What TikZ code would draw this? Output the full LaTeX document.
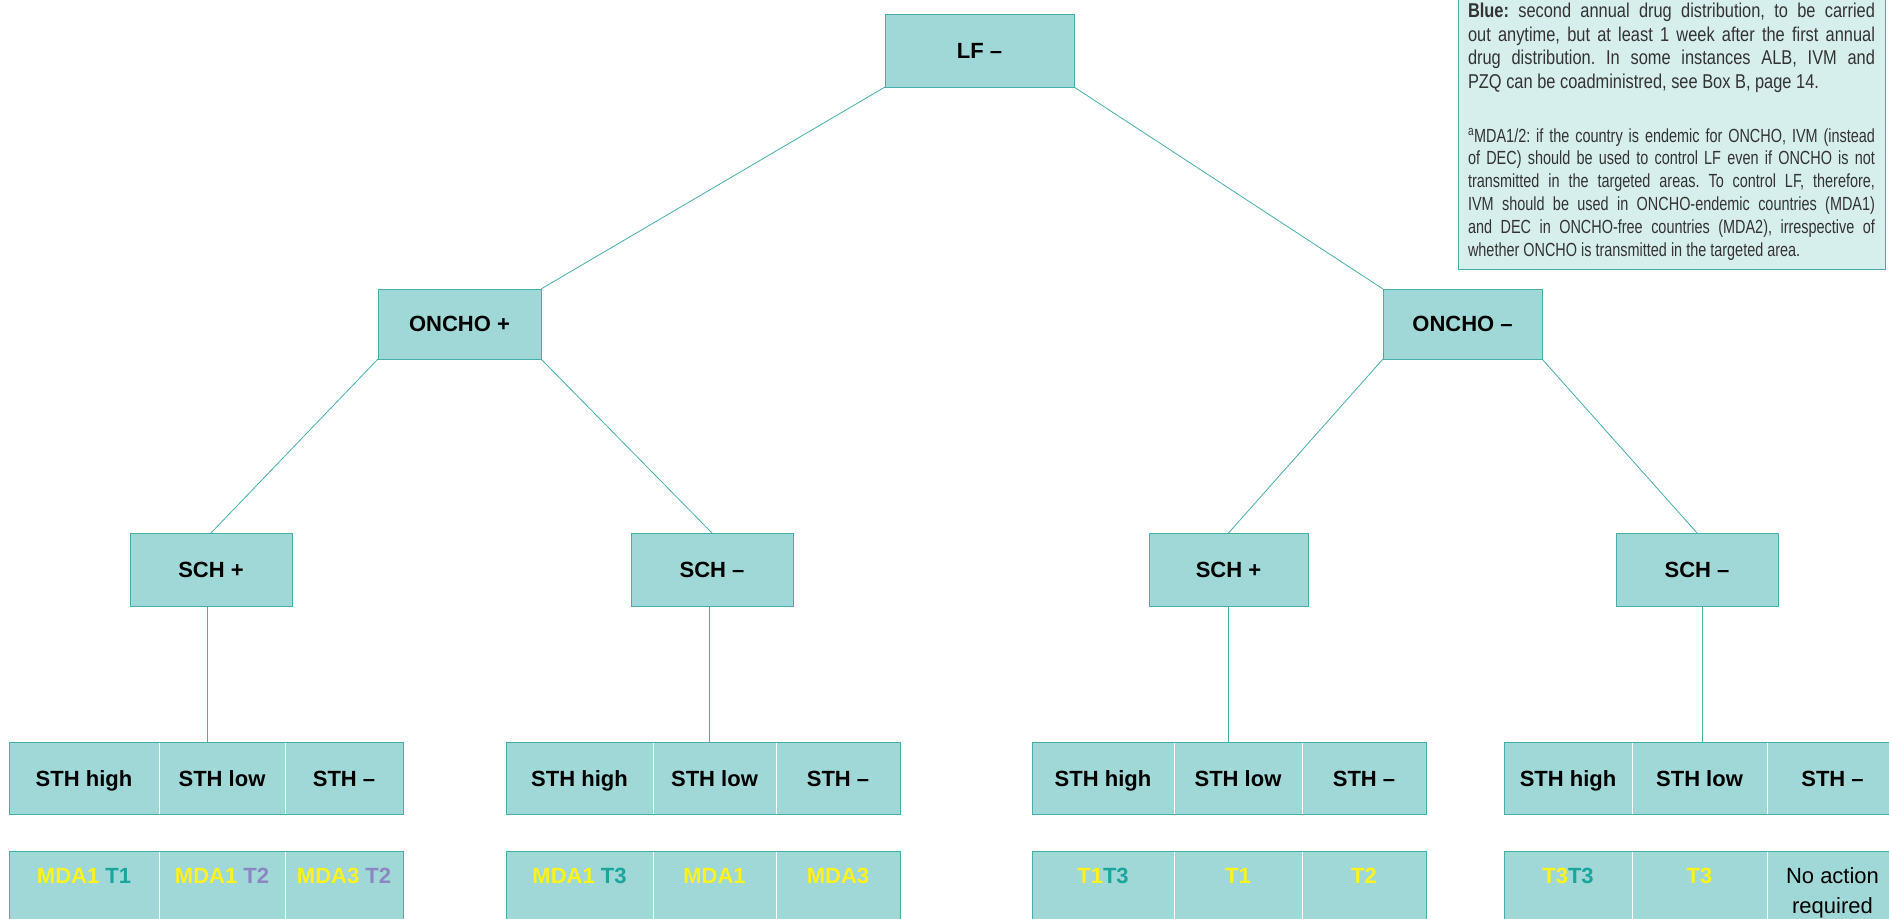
\documentclass[tikz,border=0pt]{standalone}
\usepackage{fontspec}
\setmainfont{Liberation Sans}
\newfontfamily\keyfont[FakeStretch=0.82]{Liberation Sans}
\newfontfamily\keyfontnarrow[FakeStretch=0.76]{Liberation Sans}
\usetikzlibrary{positioning}

\definecolor{boxfill}{HTML}{9FD8D6}
\definecolor{boxline}{HTML}{45AFA9}
\definecolor{notefill}{HTML}{D6EEEC}
\definecolor{mdayellow}{HTML}{FFF21C}
\definecolor{tealtext}{HTML}{1AA59D}
\definecolor{lilac}{HTML}{8C86C2}

\tikzset{
  decision/.style={draw=boxline, fill=boxfill, line width=1pt, minimum height=73pt,
    outer sep=0pt, font=\bfseries\fontsize{22}{26}\selectfont},
  cell/.style={draw=white, fill=boxfill, line width=0.8pt, minimum height=72pt,
    inner xsep=2pt, outer sep=0pt, text height=16pt, text depth=0pt,
    font=\bfseries\fontsize{22}{26}\selectfont},
  result/.style={cell, minimum height=0pt, inner ysep=8pt, text height=24pt, text depth=39pt},
  link/.style={draw=boxline, line width=0.8pt},
  frame/.style={draw=boxline, line width=1pt},
  note/.style={draw=boxline, fill=notefill, line width=1pt, inner xsep=10pt, inner ysep=9pt,
    text width=407pt, align=justify, outer sep=0pt, text=black!80},
}

\begin{document}
\begin{tikzpicture}[x=1pt, y=-1pt]
  \useasboundingbox (0,0) rectangle (1889,918);
  \clip (0,0) rectangle (1889,918);

  % decision tree
  \node[decision, minimum width=189pt] (lf) at (979.5, 50.5) {LF –};
  \node[decision, minimum width=163pt, minimum height=70pt] (onchoP) at (459.5, 324) {ONCHO +};
  \node[decision, minimum width=159pt, minimum height=70pt] (onchoM) at (1462.5, 324) {ONCHO –};
  \node[decision, minimum width=162pt] (schP1) at ( 211, 569.5) {SCH +};
  \node[decision, minimum width=162pt] (schM1) at ( 712, 569.5) {SCH –};
  \node[decision, minimum width=159pt] (schP2) at (1228.5, 569.5) {SCH +};
  \node[decision, minimum width=162pt] (schM2) at (1697, 569.5) {SCH –};

  % STH cells and drugs, ONCHO +, SCH +
  \node[cell, minimum width=150pt, anchor=west] (s11) at (9, 778) {STH high};
  \node[cell, minimum width=126pt, right=0pt of s11] (s12) {STH low};
  \node[cell, minimum width=118pt, right=0pt of s12] (s13) {STH –};
  \node[result, minimum width=150pt, below=37pt of s11] (r11) {\color{mdayellow}MDA1 \color{tealtext}T1};
  \node[result, minimum width=126pt, below=37pt of s12] (r12) {\color{mdayellow}MDA1 \color{lilac}T2};
  \node[result, minimum width=118pt, below=37pt of s13] (r13) {\color{mdayellow}MDA3 \color{lilac}T2};

  % ONCHO +, SCH -
  \node[cell, minimum width=147pt, anchor=west] (s21) at (506, 778) {STH high};
  \node[cell, minimum width=123pt, right=0pt of s21] (s22) {STH low};
  \node[cell, minimum width=124pt, right=0pt of s22] (s23) {STH –};
  \node[result, minimum width=147pt, below=37pt of s21] (r21) {\color{mdayellow}MDA1 \color{tealtext}T3};
  \node[result, minimum width=123pt, below=37pt of s22] (r22) {\color{mdayellow}MDA1};
  \node[result, minimum width=124pt, below=37pt of s23] (r23) {\color{mdayellow}MDA3};

  % ONCHO -, SCH +
  \node[cell, minimum width=142pt, anchor=west] (s31) at (1032, 778) {STH high};
  \node[cell, minimum width=128pt, right=0pt of s31] (s32) {STH low};
  \node[cell, minimum width=124pt, right=0pt of s32] (s33) {STH –};
  \node[result, minimum width=142pt, below=37pt of s31] (r31) {\color{mdayellow}T1\color{tealtext}T3};
  \node[result, minimum width=128pt, below=37pt of s32] (r32) {\color{mdayellow}T1};
  \node[result, minimum width=124pt, below=37pt of s33] (r33) {\color{mdayellow}T2};

  % ONCHO -, SCH -
  \node[cell, minimum width=128pt, anchor=west] (s41) at (1504, 778) {STH high};
  \node[cell, minimum width=135pt, right=0pt of s41] (s42) {STH low};
  \node[cell, minimum width=131pt, right=0pt of s42] (s43) {STH –};
  \node[result, minimum width=128pt, below=37pt of s41] (r41) {\color{mdayellow}T3\color{tealtext}T3};
  \node[result, minimum width=135pt, below=37pt of s42] (r42) {\color{mdayellow}T3};
  \node[result, minimum width=131pt, below=37pt of s43] (r43)
    {\mdseries\fontsize{22}{30}\selectfont\begin{tabular}[t]{@{}c@{}}No action\\required\end{tabular}};

  \foreach \g in {1,2,3,4} {
    \draw[frame] (s\g1.north west) rectangle (s\g3.south east);
    \draw[frame] (r\g1.north west) rectangle (r\g3.south east);
  }

  \draw[link] (lf.south west) -- (onchoP.north east);
  \draw[link] (lf.south east) -- (onchoM.north west);
  \draw[link] (onchoP.south west) -- (schP1.north);
  \draw[link] (onchoP.south east) -- (schM1.north);
  \draw[link] (onchoM.south west) -- (schP2.north);
  \draw[link] (onchoM.south east) -- (schM2.north);
  \draw[link] ([xshift=-4pt]schP1.south) -- ([xshift=-4pt]schP1.south |- s12.north);
  \draw[link] ([xshift=-3pt]schM1.south) -- ([xshift=-3pt]schM1.south |- s22.north);
  \draw[link] (schP2.south) -- (schP2.south |- s32.north);
  \draw[link] ([xshift=5pt]schM2.south) -- ([xshift=5pt]schM2.south |- s42.north);

  % key
  \node[note, anchor=south west] (key) at (1458, 269) {%
    \tolerance=10000 \frenchspacing
    {\keyfont\fontsize{20}{23.5}\selectfont
    \textbf{Blue:} second annual drug distribution, to be carried\linebreak
    out anytime, but at least 1 week after the first annual\linebreak
    drug distribution. In some instances ALB, IVM and\linebreak
    PZQ can be coadministred, see Box B, page 14.\par}
    \vspace{31pt}
    {\keyfontnarrow\fontsize{19}{22.8}\selectfont
    \textsuperscript{a}MDA1/2: if the country is endemic for ONCHO, IVM (instead\linebreak
    of DEC) should be used to control LF even if ONCHO is not\linebreak
    transmitted in the targeted areas. To control LF, therefore,\linebreak
    IVM should be used in ONCHO-endemic countries (MDA1)\linebreak
    and DEC in ONCHO-free countries (MDA2), irrespective of\linebreak
    whether ONCHO is transmitted in the targeted area.\par}};
\end{tikzpicture}
\end{document}
